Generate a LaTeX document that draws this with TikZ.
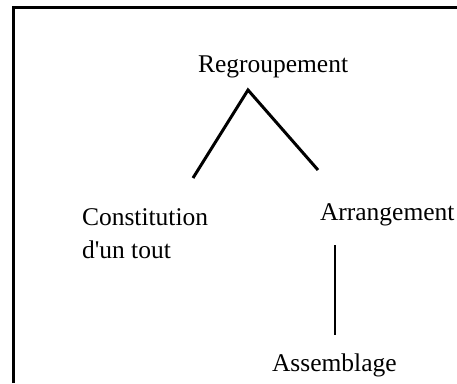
\documentclass[tikz,border=0pt]{standalone}
\usepackage{fontspec}
\setmainfont{Liberation Serif}[Ligatures=TeXOff]
\begin{document}
\begin{tikzpicture}[x=1pt,y=-1pt,
  lbl/.style={inner sep=0pt, outer sep=0pt, anchor=base west, font=\fontsize{25.5}{32.7}\selectfont},
  link/.style={line width=3pt},
  frameline/.style={line width=3pt}]
\useasboundingbox (0,0) rectangle (457,383);
\draw[frameline] (13.5,383) -- (13.5,7.5) -- (457,7.5);
\node[lbl] (reg) at (198,72) {Regroupement};
\node[lbl, align=left] (con) at (82,258) {Constitution\\d'un tout};
\node[lbl] (arr) at (320,220) {Arrangement};
\node[lbl] (ass) at (272,371) {Assemblage};
\coordinate (apex) at (248,90);
\coordinate (conTop) at (193,178);
\coordinate (arrTop) at (318,170);
\coordinate (arrBot) at (335,245);
\coordinate (assTop) at (335,335);
\draw[link] (conTop) -- (apex) -- (arrTop);
\draw[line width=2.5pt] (arrBot) -- (assTop);
\end{tikzpicture}
\end{document}
